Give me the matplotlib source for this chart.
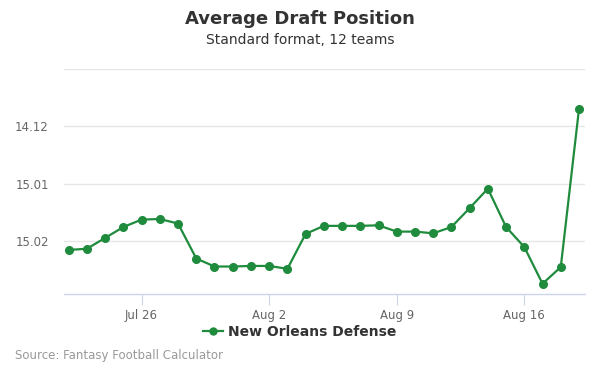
import matplotlib
matplotlib.use("Agg")
import matplotlib.pyplot as plt
from matplotlib.lines import Line2D

# Data: daily ADP (overall pick number), Jul 22 - Aug 19
dates = ["Jul 22", "Jul 23", "Jul 24", "Jul 25", "Jul 26", "Jul 27", "Jul 28", "Jul 29",
         "Jul 30", "Jul 31", "Aug 1", "Aug 2", "Aug 3", "Aug 4", "Aug 5", "Aug 6",
         "Aug 7", "Aug 8", "Aug 9", "Aug 10", "Aug 11", "Aug 12", "Aug 13", "Aug 14",
         "Aug 15", "Aug 16", "Aug 17", "Aug 18", "Aug 19"]
adp = [170.16, 170.14, 169.95, 169.76, 169.63, 169.62, 169.70, 170.31,
       170.45, 170.45, 170.44, 170.44, 170.49, 169.88, 169.74, 169.74,
       169.74, 169.73, 169.84, 169.84, 169.87, 169.76, 169.43, 169.09,
       169.76, 170.11, 170.75, 170.46, 167.70]
series_name = "New Orleans Defense"
x_tick_labels = ["Jul 26", "Aug 2", "Aug 9", "Aug 16"]
y_ticks = [167, 168, 169, 170]
y_tick_labels = ["", "14.12", "15.01", "15.02"]

color = "#1f8b3d"

fig = plt.figure(figsize=(6, 3.75), dpi=100)
ax = fig.add_axes([64/600, 1-294/375, (585-64)/600, (294-69)/375])

x = list(range(len(dates)))
ax.plot(x, adp, color=color, lw=1.6, marker="o", ms=5.5, zorder=3, clip_on=False)

ax.set_ylim(170.93, 167)
ax.set_xlim(-0.258, 28.33)
ax.set_yticks(y_ticks)
ax.set_yticklabels(y_tick_labels)
xt = [dates.index(d) for d in x_tick_labels]
ax.set_xticks(xt)
ax.set_xticklabels(x_tick_labels)

ax.grid(axis="y", color="#e6e6e6", lw=1)
ax.set_axisbelow(True)
for s in ["top", "right", "left"]:
    ax.spines[s].set_visible(False)
ax.spines["bottom"].set_color("#ccd6eb")
ax.spines["bottom"].set_linewidth(1)
ax.tick_params(axis="y", length=0, labelsize=8.5, labelcolor="#666666", pad=11)
ax.tick_params(axis="x", length=8, color="#ccd6eb", labelsize=8.5, labelcolor="#666666", pad=3)

fig.text(0.5, 1-19/375, "Average Draft Position", ha="center", va="center",
         fontsize=13, fontweight="bold", color="#333333")
fig.text(0.5, 1-40/375, "Standard format, 12 teams", ha="center", va="center",
         fontsize=10, color="#333333")

handle = Line2D([], [], color=color, lw=1.6, marker="o", ms=5)
leg = fig.legend([handle], [series_name], loc="center", bbox_to_anchor=(0.5, 1-332/375),
                 frameon=False, prop={"weight": "bold", "size": 10}, handlelength=1.4,
                 handletextpad=0.4)
for t in leg.get_texts():
    t.set_color("#333333")

fig.text(15/600, 1-356/375, "Source: Fantasy Football Calculator", ha="left", va="center",
         fontsize=8.5, color="#999999")

fig.savefig("out.png", dpi=100)
